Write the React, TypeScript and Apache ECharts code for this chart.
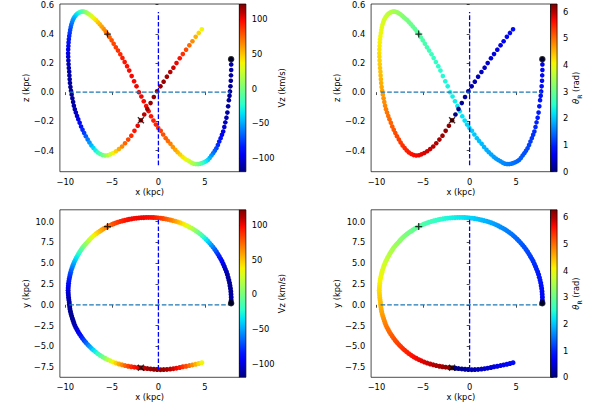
import React, { useEffect, useRef } from 'react';
import * as echarts from 'echarts';

// ---- orbit samples ----
const xs = [
  7.80, 7.81, 7.81, 7.79, 7.77, 7.73, 7.68, 7.63, 7.56, 7.48,
  7.40, 7.30, 7.18, 7.07, 6.95, 6.82, 6.68, 6.53, 6.38, 6.22,
  6.05, 5.87, 5.69, 5.50, 5.31, 5.11, 4.90, 4.69, 4.48, 4.25,
  4.02, 3.79, 3.56, 3.31, 3.07, 2.82, 2.58, 2.32, 2.06, 1.81,
  1.55, 1.29, 1.02, 0.78, 0.51, 0.25, -0.02, -0.27, -0.53, -0.79,
  -1.05, -1.31, -1.57, -1.83, -2.09, -2.35, -2.61, -2.87, -3.13, -3.36,
  -3.62, -3.86, -4.09, -4.34, -4.57, -4.80, -5.02, -5.24, -5.46, -5.67,
  -5.88, -6.09, -6.29, -6.49, -6.68, -6.87, -7.06, -7.23, -7.40, -7.55,
  -7.72, -7.87, -8.03, -8.18, -8.30, -8.43, -8.56, -8.67, -8.80, -8.90,
  -9.01, -9.10, -9.19, -9.27, -9.35, -9.41, -9.47, -9.52, -9.57, -9.61,
  -9.64, -9.66, -9.68, -9.69, -9.68, -9.66, -9.64, -9.61, -9.57, -9.55,
  -9.52, -9.49, -9.44, -9.38, -9.31, -9.23, -9.15, -9.07, -8.97, -8.86,
  -8.73, -8.60, -8.45, -8.30, -8.14, -7.97, -7.79, -7.59, -7.40, -7.19,
  -6.97, -6.74, -6.51, -6.25, -6.00, -5.73, -5.44, -5.16, -4.86, -4.55,
  -4.23, -3.90, -3.58, -3.24, -2.91, -2.57, -2.22, -1.88, -1.52, -1.19,
  -0.84, -0.49, -0.14, 0.22, 0.56, 0.91, 1.27, 1.61, 1.94, 2.29,
  2.62, 2.97, 3.32, 3.65, 4.00, 4.33, 4.66,
];
const ys = [
  0.20, 0.56, 0.91, 1.26, 1.61, 1.96, 2.30, 2.64, 2.98, 3.31,
  3.66, 3.98, 4.30, 4.61, 4.92, 5.24, 5.53, 5.81, 6.10, 6.38,
  6.65, 6.93, 7.18, 7.43, 7.66, 7.89, 8.12, 8.33, 8.53, 8.72,
  8.90, 9.07, 9.22, 9.36, 9.51, 9.64, 9.76, 9.87, 9.97, 10.06,
  10.13, 10.20, 10.27, 10.33, 10.38, 10.42, 10.45, 10.48, 10.50, 10.51,
  10.51, 10.51, 10.49, 10.48, 10.45, 10.42, 10.39, 10.34, 10.29, 10.23,
  10.16, 10.10, 10.03, 9.94, 9.85, 9.75, 9.65, 9.53, 9.41, 9.29,
  9.16, 9.00, 8.85, 8.71, 8.55, 8.39, 8.21, 8.03, 7.83, 7.63,
  7.43, 7.24, 7.03, 6.82, 6.60, 6.38, 6.15, 5.92, 5.67, 5.43,
  5.20, 4.94, 4.70, 4.44, 4.18, 3.92, 3.65, 3.39, 3.13, 2.85,
  2.58, 2.30, 2.02, 1.74, 1.46, 1.19, 0.89, 0.62, 0.33, 0.05,
  -0.23, -0.51, -0.79, -1.09, -1.36, -1.65, -1.91, -2.19, -2.47, -2.74,
  -3.00, -3.27, -3.53, -3.78, -4.04, -4.29, -4.53, -4.78, -5.01, -5.24,
  -5.46, -5.67, -5.88, -6.08, -6.26, -6.43, -6.60, -6.74, -6.89, -7.01,
  -7.12, -7.22, -7.31, -7.39, -7.45, -7.50, -7.55, -7.58, -7.63, -7.67,
  -7.71, -7.75, -7.79, -7.80, -7.79, -7.77, -7.73, -7.68, -7.62, -7.54,
  -7.45, -7.39, -7.31, -7.23, -7.15, -7.06, -6.96,
];
const zs = [
  0.226, 0.19, 0.152, 0.115, 0.078, 0.04, 0.005, -0.025, -0.055, -0.097,
  -0.14, -0.175, -0.207, -0.238, -0.27, -0.292, -0.315, -0.338, -0.362, -0.385,
  -0.402, -0.418, -0.434, -0.451, -0.465, -0.473, -0.48, -0.486, -0.49, -0.493,
  -0.493, -0.49, -0.483, -0.474, -0.465, -0.455, -0.443, -0.427, -0.411, -0.395,
  -0.375, -0.354, -0.334, -0.315, -0.29, -0.265, -0.245, -0.222, -0.195, -0.165,
  -0.13, -0.095, -0.062, -0.03, 0.0, 0.04, 0.075, 0.11, 0.148, 0.178,
  0.206, 0.234, 0.26, 0.285, 0.308, 0.332, 0.355, 0.377, 0.398, 0.417,
  0.434, 0.45, 0.465, 0.479, 0.492, 0.503, 0.514, 0.523, 0.532, 0.539,
  0.545, 0.549, 0.552, 0.552, 0.551, 0.548, 0.544, 0.539, 0.532, 0.524,
  0.515, 0.504, 0.492, 0.478, 0.462, 0.445, 0.426, 0.406, 0.385, 0.363,
  0.34, 0.316, 0.292, 0.267, 0.242, 0.217, 0.192, 0.166, 0.14, 0.114,
  0.088, 0.062, 0.036, 0.01, -0.016, -0.042, -0.068, -0.093, -0.117, -0.14,
  -0.163, -0.186, -0.209, -0.235, -0.258, -0.28, -0.302, -0.324, -0.345, -0.365,
  -0.383, -0.399, -0.413, -0.424, -0.431, -0.434, -0.432, -0.426, -0.417, -0.405,
  -0.39, -0.372, -0.35, -0.325, -0.298, -0.265, -0.23, -0.193, -0.153, -0.115,
  -0.075, -0.033, 0.006, 0.04, 0.072, 0.106, 0.138, 0.168, 0.199, 0.232,
  0.261, 0.291, 0.321, 0.349, 0.379, 0.406, 0.431,
];
const vz = [
  -106, -109, -111, -113, -114, -115, -115, -115, -114, -113,
  -111, -109, -106, -103, -99, -95, -90, -85, -80, -74,
  -68, -62, -55, -48, -41, -34, -27, -19, -11, -4,
  3, 10, 16, 22, 28, 35, 40, 46, 52, 57,
  62, 67, 72, 76, 80, 84, 87, 90, 93, 95,
  97, 98, 99, 100, 100, 100, 99, 99, 98, 96,
  95, 93, 90, 88, 85, 82, 79, 75, 72, 68,
  64, 59, 55, 50, 45, 40, 35, 30, 25, 19,
  14, 8, 3, -3, -9, -15, -20, -26, -32, -37,
  -43, -48, -53, -58, -63, -68, -73, -77, -81, -85,
  -89, -93, -96, -99, -102, -104, -107, -109, -111, -112,
  -113, -114, -115, -115, -115, -114, -113, -111, -109, -105,
  -102, -97, -93, -87, -81, -75, -68, -61, -54, -46,
  -38, -30, -21, -13, -4, 5, 16, 26, 36, 46,
  56, 65, 74, 82, 89, 95, 101, 106, 110, 114,
  116, 118, 118, 118, 116, 114, 110, 106, 101, 95,
  88, 81, 73, 64, 55, 45, 35,
];
const thetaR = [
  0.60, 0.63, 0.66, 0.70, 0.73, 0.76, 0.79, 0.82, 0.86, 0.89,
  0.92, 0.95, 0.98, 1.02, 1.05, 1.08, 1.11, 1.14, 1.18, 1.21,
  1.24, 1.27, 1.30, 1.34, 1.37, 1.40, 1.43, 1.46, 1.50, 1.53,
  1.56, 1.59, 1.63, 1.66, 1.70, 1.73, 1.76, 1.80, 1.83, 1.86,
  1.90, 1.93, 1.97, 2.00, 2.03, 2.07, 2.10, 2.13, 2.17, 2.20,
  2.24, 2.27, 2.30, 2.34, 2.37, 2.40, 2.44, 2.47, 2.51, 2.54,
  2.57, 2.61, 2.64, 2.67, 2.71, 2.74, 2.78, 2.81, 2.84, 2.88,
  2.92, 2.96, 3.00, 3.04, 3.08, 3.12, 3.16, 3.20, 3.24, 3.28,
  3.32, 3.36, 3.40, 3.44, 3.48, 3.52, 3.56, 3.60, 3.64, 3.68,
  3.72, 3.76, 3.80, 3.84, 3.88, 3.92, 3.96, 4.00, 4.04, 4.08,
  4.12, 4.16, 4.20, 4.24, 4.28, 4.32, 4.36, 4.40, 4.44, 4.48,
  4.52, 4.56, 4.60, 4.64, 4.69, 4.74, 4.78, 4.83, 4.88, 4.93,
  4.97, 5.02, 5.07, 5.12, 5.16, 5.21, 5.26, 5.31, 5.35, 5.40,
  5.45, 5.50, 5.54, 5.59, 5.64, 5.69, 5.73, 5.78, 5.83, 5.88,
  5.92, 5.97, 6.02, 6.07, 6.11, 6.16, 6.21, 6.26, 0.02, 0.06,
  0.10, 0.14, 0.18, 0.22, 0.26, 0.30, 0.34, 0.38, 0.42, 0.46,
  0.50, 0.54, 0.58, 0.62, 0.66, 0.70, 0.74,
];

// special points (indices into the orbit)
const startIdx = 0;
const plusIdx = 68;
const crossIdx = 147;

// axis limits and ticks
const xRange = [-10.57, 8.69];
const zRange = [-0.545, 0.604];
const yRange = [-8.72, 11.43];
const vzRange = [-119.7, 121.6];
const thetaRange = [0, 6.2832];
const xTicks = [-10, -5, 0, 5];
const zTicks = [-0.4, -0.2, 0, 0.2, 0.4, 0.6];
const yTicks = [-7.5, -5, -2.5, 0, 2.5, 5, 7.5, 10];
const vzTicks = [-100, -50, 0, 50, 100];
const thetaTicks = [0, 1, 2, 3, 4, 5, 6];

// dashed reference lines
const hLineX = [-9.55, 7.7];
const vLineZ = [-0.5, 0.55];
const vLineY = [-7.8, 10.45];

const jet = [
  '#000080', '#0000b9', '#0000f4', '#001aff', '#004dff', '#0080ff', '#00b3ff',
  '#00e5f7', '#29ffce', '#52ffa4', '#7bff7b', '#a4ff52', '#ceff29', '#f7f500',
  '#ffc600', '#ff9700', '#ff6800', '#ff3900', '#ff0900', '#b90000', '#800000',
];

const FONT = 'DejaVu Sans';
const FS = 8.33;

function fmt(v: number, d: number) {
  const s = Math.abs(v).toFixed(d);
  return (v < -1e-9 ? '\u2212' : '') + s;
}

const PLUS = 'path://M4.1,0 H5.9 V4.1 H10 V5.9 H5.9 V10 H4.1 V5.9 H0 V4.1 H4.1 Z';
const CROSS = 'path://M0,1.4 L1.4,0 L5,3.6 L8.6,0 L10,1.4 L6.4,5 L10,8.6 L8.6,10 L5,6.4 L1.4,10 L0,8.6 L3.6,5 Z';

export default function App() {
  const ref = useRef<HTMLDivElement>(null);
  useEffect(() => {
    if (!ref.current) return;
    const chart = echarts.init(ref.current, undefined, { renderer: 'svg' });

    const panels = [
      { left: 59.9, top: 4, w: 179.5, h: 167.7, plane: 'xz', color: 'vz' },
      { left: 371.1, top: 4, w: 179.5, h: 167.7, plane: 'xz', color: 'theta' },
      { left: 59.9, top: 209.8, w: 179.5, h: 167.5, plane: 'xy', color: 'vz' },
      { left: 371.1, top: 209.8, w: 179.5, h: 167.5, plane: 'xy', color: 'theta' },
    ];
    const cbW = 6.5;
    const axisFont = { fontFamily: FONT, fontSize: FS, color: '#000' };
    const tickStyle = { color: '#000', width: 0.7 };

    const grid: any[] = [];
    const xAxis: any[] = [];
    const yAxis: any[] = [];
    const series: any[] = [];
    const graphic: any[] = [];

    const gradient = () =>
      new echarts.graphic.LinearGradient(
        0, 0, 0, 1,
        jet.map((_, k) => ({ offset: k / 20, color: jet[20 - k] }))
      );

    panels.forEach((p, i) => {
      const isXZ = p.plane === 'xz';
      const vRange = isXZ ? zRange : yRange;
      const vTicks = isXZ ? zTicks : yTicks;
      const vals = isXZ ? zs : ys;
      const cVals = p.color === 'vz' ? vz : thetaR;
      grid.push({
        left: p.left, top: p.top, width: p.w, height: p.h,
        show: true, borderColor: '#000', borderWidth: 0.7,
        backgroundColor: 'transparent', containLabel: false, outerBoundsMode: 'none',
      });
      xAxis.push({
        gridIndex: i, type: 'value', min: xRange[0], max: xRange[1],
        name: 'x (kpc)', nameLocation: 'middle', nameGap: 16, nameTextStyle: axisFont,
        axisLine: { show: false }, splitLine: { show: false },
        axisTick: { show: true, length: 2.9, lineStyle: tickStyle, customValues: xTicks },
        axisLabel: { ...axisFont, margin: 5.8, customValues: xTicks, formatter: (v: number) => fmt(v, 0) },
      });
      yAxis.push({
        gridIndex: i, type: 'value', min: vRange[0], max: vRange[1],
        name: isXZ ? 'z (kpc)' : 'y (kpc)', nameLocation: 'middle', nameGap: 27, nameTextStyle: axisFont,
        axisLine: { show: false }, splitLine: { show: false },
        axisTick: { show: true, length: 2.9, lineStyle: tickStyle, customValues: vTicks },
        axisLabel: { ...axisFont, margin: 5.8, customValues: vTicks, formatter: (v: number) => fmt(v, 1) },
      });
      series.push({
        type: 'scatter', xAxisIndex: i, yAxisIndex: i, z: 2,
        symbol: 'circle', symbolSize: isXZ ? 4.6 : 5, silent: true,
        itemStyle: { opacity: 1, borderWidth: 0 },
        data: xs.map((x, k) => [x, vals[k], cVals[k]]),
      });
    });

    // colorbars
    panels.forEach((p, i) => {
      const gi = 4 + i;
      const isVz = p.color === 'vz';
      grid.push({
        left: p.left + p.w, top: p.top, width: cbW, height: p.h,
        show: false, containLabel: false, outerBoundsMode: 'none',
      });
      xAxis.push({ gridIndex: gi, type: 'value', min: 0, max: 1, show: false });
      yAxis.push({
        gridIndex: gi, type: 'value', position: 'right',
        min: isVz ? vzRange[0] : thetaRange[0], max: isVz ? vzRange[1] : thetaRange[1],
        name: isVz ? 'Vz (km/s)' : '{t|θ}{s|R}{n| (rad)}',
        nameLocation: 'middle', nameRotate: 90, nameGap: isVz ? 31 : 12,
        nameTextStyle: {
          ...axisFont,
          rich: {
            t: { ...axisFont, fontStyle: 'italic', lineHeight: 12 },
            s: { fontFamily: FONT, fontSize: 6, color: '#000', verticalAlign: 'bottom', lineHeight: 7 },
            n: { ...axisFont, lineHeight: 12 },
          },
        },
        axisLine: { show: false }, splitLine: { show: false },
        axisTick: { show: true, length: 2.9, lineStyle: tickStyle, customValues: isVz ? vzTicks : thetaTicks },
        axisLabel: {
          ...axisFont, margin: 5.8, customValues: isVz ? vzTicks : thetaTicks,
          formatter: (v: number) => fmt(v, 0),
        },
      });
      graphic.push({
        type: 'rect', silent: true, z: 10,
        shape: { x: p.left + p.w, y: p.top, width: cbW, height: p.h },
        style: { fill: gradient(), stroke: '#000', lineWidth: 0.7 },
      });
    });

    // dashed lines and markers
    panels.forEach((p, i) => {
      const isXZ = p.plane === 'xz';
      const vals = isXZ ? zs : ys;
      const vLine = isXZ ? vLineZ : vLineY;
      series.push({
        type: 'line', xAxisIndex: i, yAxisIndex: i, z: 3, symbol: 'none', silent: true,
        lineStyle: { color: '#1f77b4', width: 1.3, type: [4.6, 2] },
        data: [[hLineX[0], 0], [hLineX[1], 0]],
      });
      series.push({
        type: 'line', xAxisIndex: i, yAxisIndex: i, z: 3, symbol: 'none', silent: true,
        lineStyle: { color: '#0000ff', width: 1.3, type: [4.6, 2] },
        data: [[0, vLine[0]], [0, vLine[1]]],
      });
      series.push({
        type: 'scatter', xAxisIndex: i, yAxisIndex: i, z: 4, silent: true,
        symbol: 'circle', symbolSize: 6.5, itemStyle: { color: '#000' },
        data: [[xs[startIdx], vals[startIdx]]],
      });
      series.push({
        type: 'scatter', xAxisIndex: i, yAxisIndex: i, z: 4, silent: true,
        symbol: PLUS, symbolSize: 7, itemStyle: { color: '#000' },
        data: [[xs[plusIdx], vals[plusIdx]]],
      });
      series.push({
        type: 'scatter', xAxisIndex: i, yAxisIndex: i, z: 4, silent: true,
        symbol: CROSS, symbolSize: 7, itemStyle: { color: '#000' },
        data: [[xs[crossIdx], vals[crossIdx]]],
      });
    });

    const option: any = {
      animation: false,
      textStyle: { fontFamily: FONT },
      grid, xAxis, yAxis, series, graphic,
      visualMap: [
        {
          type: 'continuous', show: false, dimension: 2, seriesIndex: [0, 2],
          min: vzRange[0], max: vzRange[1], inRange: { color: jet },
        },
        {
          type: 'continuous', show: false, dimension: 2, seriesIndex: [1, 3],
          min: thetaRange[0], max: thetaRange[1], inRange: { color: jet },
        },
      ],
    };
    chart.setOption(option);
    return () => chart.dispose();
  }, []);

  return (
    <div
      ref={ref}
      style={{ position: 'fixed', left: 0, top: 0, width: 599, height: 420, background: '#fff' }}
    />
  );
}
